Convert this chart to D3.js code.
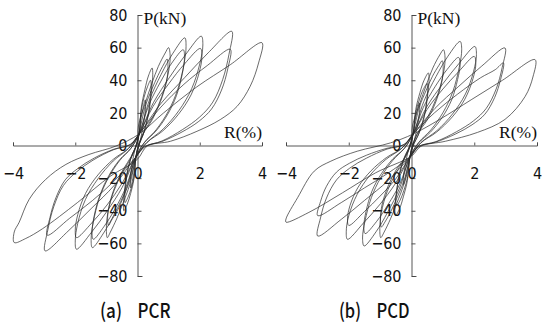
<!DOCTYPE html>
<html>
<head>
<meta charset="utf-8">
<title>PCR / PCD hysteresis loops</title>
<style>
  body { margin: 0; background: #fff; }
  svg { display: block; }
  .axis path, .axis line { stroke: #444; stroke-width: 0.9px; fill: none; }
  .axis text { font-family: "Liberation Sans Narrow", "DejaVu Sans Condensed", sans-serif; font-size: 16px; fill: #111; }
  .loop { fill: none; stroke: #2a2a2a; stroke-width: 0.7px; stroke-linejoin: round; }
  .title { font-family: "Liberation Serif", "DejaVu Serif", serif; font-size: 17.5px; fill: #111; }
  .caption { font-family: "Noto Sans CJK JP", "DejaVu Sans Condensed", sans-serif; font-weight: 500; font-size: 20px; fill: #111; }
</style>
</head>
<body>
<svg width="546" height="329"></svg>
<script src="https://d3js.org/d3.v7.min.js"></script>
<script>
// tick values
var xTicks = [-4, -2, 0, 2, 4];
var yTicks = [-80, -60, -40, -20, 0, 20, 40, 60, 80];

// ---- (a) PCR : one closed loop per cycle, [R(%), P(kN)] ----
var pcr025 = [[0.05,7],[0.1,15],[0.18,23],[0.25,28],[0.26,24],[0.2,14],[0.1,4],[-0.05,-7],[-0.1,-15],[-0.17,-22],[-0.22,-26],[-0.23,-21],[-0.17,-11],[-0.08,-2]];
var pcr050a = [[0.05,7],[0.12,23],[0.24,34.5],[0.35,42.6],[0.47,47.5],[0.49,43.7],[0.46,35.6],[0.4,24.7],[0.31,15.2],[0.19,7.1],[0.07,1.4],[-0.05,-7],[-0.11,-20.2],[-0.22,-29.4],[-0.33,-36],[-0.44,-40],[-0.45,-36.8],[-0.43,-30],[-0.37,-20.8],[-0.29,-12.8],[-0.18,-6],[-0.07,-1.2]];
var pcr050b = [[0.05,7],[0.11,20],[0.21,29.5],[0.32,36],[0.42,40],[0.44,36.8],[0.41,30],[0.36,20.8],[0.27,12.8],[0.17,6],[0.06,1.2],[-0.05,-7],[-0.1,-18],[-0.2,-26],[-0.3,-31.5],[-0.4,-35],[-0.41,-32],[-0.39,-26],[-0.34,-18],[-0.26,-11],[-0.16,-5],[-0.06,-1]];
var pcr100a = [[0.03,12],[0.25,26],[0.46,38],[0.67,48.5],[0.89,56.7],[1.0,60],[1.05,54.6],[0.99,44.5],[0.78,30],[0.51,18],[0.19,7.8],[0,-2],[-0.05,-7],[-0.25,-24],[-0.46,-35],[-0.67,-45],[-0.87,-53],[-0.97,-56.5],[-1.0,-51],[-0.95,-41],[-0.76,-28],[-0.5,-17],[-0.19,-7],[0,2]];
var pcr100b = [[0.05,7],[0.25,24],[0.45,34],[0.66,43],[0.85,50],[0.95,53],[0.98,48],[0.93,39],[0.74,27],[0.48,16],[0.18,7],[0,-2],[-0.05,-7],[-0.24,-21],[-0.44,-31],[-0.65,-40],[-0.84,-46],[-0.93,-49],[-0.96,-44],[-0.9,-36],[-0.72,-25],[-0.47,-15],[-0.18,-6],[0,2]];
var pcr150a = [[0.05,7],[0.38,27.7],[0.76,43.6],[1.14,56.6],[1.52,66],[1.56,60.7],[1.49,49.5],[1.29,34.3],[0.99,21],[0.61,9.9],[0.23,2],[-0.05,-7],[-0.36,-26.5],[-0.73,-41.5],[-1.09,-53.7],[-1.45,-62.6],[-1.49,-57.6],[-1.42,-47],[-1.23,-32.6],[-0.94,-20],[-0.58,-9.4],[-0.22,-1.9]];
var pcr150b = [[0.05,7],[0.37,25],[0.74,39],[1.1,50.5],[1.47,58.7],[1.51,54],[1.44,44],[1.25,30.5],[0.96,18.8],[0.59,8.8],[0.22,1.8],[-0.05,-7],[-0.36,-25],[-0.71,-38.5],[-1.07,-49.5],[-1.42,-57.5],[-1.46,-53],[-1.39,-43],[-1.2,-30],[-0.92,-18.4],[-0.57,-8.6],[-0.21,-1.7]];
var pcr200a = [[0.05,7],[0.51,26.2],[1.03,41.8],[1.54,55.6],[2.05,67],[2.1,61.6],[2.0,50],[1.74,34.8],[1.33,21.4],[0.82,10],[0.31,2],[-0.05,-7],[-0.49,-25.6],[-0.98,-40.3],[-1.47,-53],[-1.96,-63.6],[-2.0,-58.5],[-1.92,-47.7],[-1.67,-33],[-1.27,-20.4],[-0.78,-9.5],[-0.29,-1.9]];
var pcr200b = [[0.05,7],[0.5,24],[1.01,38],[1.51,50],[2.02,59.5],[2.07,54.7],[1.98,44.6],[1.72,31],[1.31,19],[0.81,8.9],[0.3,1.8],[-0.05,-7],[-0.49,-23],[-0.98,-36.5],[-1.47,-47.5],[-1.96,-56.5],[-2.0,-52],[-1.92,-42.4],[-1.67,-29.4],[-1.27,-18],[-0.78,-8.5],[-0.29,-1.7]];
var pcr300a = [[0.05,7],[0.76,25.9],[1.52,41.7],[2.27,56.8],[3.03,70],[2.94,56],[2.74,40.6],[2.42,26.6],[2.0,17.5],[1.45,9.8],[0.79,2.8],[0.24,-0.7],[-0.05,-7],[-0.74,-24.3],[-1.49,-38.7],[-2.23,-52.5],[-2.97,-64.6],[-2.88,-51.7],[-2.69,-37.5],[-2.38,-24.5],[-1.96,-16.2],[-1.43,-9],[-0.77,-2.6],[-0.24,0.6]];
var pcr300b = [[0.05,7],[0.75,23.5],[1.49,37.5],[2.24,49],[2.98,59],[2.9,47],[2.7,34],[2.38,22.4],[1.97,14.8],[1.43,8.3],[0.78,2.4],[0.24,-0.6],[-0.05,-7],[-0.73,-21.4],[-1.45,-33.8],[-2.18,-44.6],[-2.9,-55],[-2.81,-44],[-2.62,-32],[-2.32,-21],[-1.91,-14],[-1.39,-7.7],[-0.75,-2.2],[-0.23,0.5]];
var pcr400 = [[0.05,7],[0.84,20],[1.91,36],[2.98,49.5],[4.0,63],[3.89,50.6],[3.62,36.3],[3.2,24],[2.66,15.9],[1.91,8.7],[1.06,2.6],[0.31,-0.4],[-0.01,-8.6],[-0.87,-18.8],[-1.93,-35],[-3.05,-51],[-3.59,-57],[-3.96,-59.5],[-3.96,-53],[-3.8,-47],[-3.48,-33],[-2.95,-20.8],[-2.3,-11.6],[-1.56,-5.5],[-0.7,-0.4]];

// ---- (b) PCD ----
var pcd025 = [[0.05,7],[0.1,14],[0.18,21],[0.25,26],[0.26,22],[0.2,13],[0.1,4],[-0.05,-7],[-0.1,-14],[-0.18,-20],[-0.25,-24],[-0.26,-20],[-0.19,-11],[-0.09,-2]];
var pcd050a = [[0.05,7],[0.135,22],[0.27,32.5],[0.4,40],[0.54,44.5],[0.56,41],[0.53,33.4],[0.46,23],[0.35,14.2],[0.22,6.7],[0.08,1.3],[-0.05,-7],[-0.13,-21.4],[-0.26,-31.5],[-0.38,-38.7],[-0.51,-43],[-0.53,-39.6],[-0.5,-32],[-0.43,-22.4],[-0.33,-13.8],[-0.2,-6.5],[-0.08,-1.3]];
var pcd050b = [[0.05,7],[0.125,19.4],[0.25,28],[0.375,34.4],[0.5,38],[0.52,35],[0.49,28.5],[0.43,19.8],[0.33,12.2],[0.2,5.7],[0.08,1.1],[-0.05,-7],[-0.12,-19],[-0.24,-27.4],[-0.36,-33.4],[-0.48,-37],[-0.5,-34],[-0.47,-27.8],[-0.41,-19.2],[-0.31,-11.8],[-0.19,-5.5],[-0.07,-1.1]];
var pcd100a = [[0.03,12],[0.26,25.5],[0.47,37],[0.68,47.5],[0.9,55.5],[1.02,58.7],[1.07,53.4],[1.01,43.5],[0.8,29.4],[0.52,17.6],[0.19,7.6],[0,-2],[-0.05,-7],[-0.25,-24],[-0.46,-35],[-0.67,-45],[-0.87,-53],[-0.98,-56.5],[-1.01,-51],[-0.96,-41],[-0.77,-28],[-0.5,-17],[-0.19,-7],[0,2]];
var pcd100b = [[0.05,7],[0.25,23.5],[0.46,33.5],[0.67,42.5],[0.87,49],[0.98,52],[1.01,47.5],[0.96,38.5],[0.76,26],[0.5,15.6],[0.18,6.8],[0,-2],[-0.05,-7],[-0.24,-21.5],[-0.45,-31.5],[-0.66,-40.5],[-0.85,-47],[-0.96,-50],[-0.99,-45],[-0.94,-36.5],[-0.75,-25],[-0.49,-15],[-0.18,-6.2],[0,2]];
var pcd150a = [[0.05,7],[0.39,26.9],[0.78,42.2],[1.16,54.7],[1.55,63.8],[1.6,58.7],[1.52,47.9],[1.32,33.2],[1.01,20.4],[0.62,9.6],[0.23,1.9],[-0.05,-7],[-0.38,-26.1],[-0.76,-40.9],[-1.13,-52.9],[-1.51,-61.6],[-1.56,-56.7],[-1.48,-46.2],[-1.28,-32],[-0.98,-19.7],[-0.6,-9.2],[-0.23,-1.8]];
var pcd150b = [[0.05,7],[0.38,23.5],[0.75,36],[1.13,46.5],[1.5,54],[1.55,49.7],[1.47,40.5],[1.28,28],[0.98,17.3],[0.6,8.1],[0.23,1.6],[-0.05,-7],[-0.37,-23.5],[-0.74,-36],[-1.11,-46.5],[-1.48,-54],[-1.52,-49.7],[-1.45,-40.5],[-1.26,-28],[-0.96,-17.3],[-0.59,-8.1],[-0.22,-1.6]];
var pcd200a = [[0.05,7],[0.5,24.2],[1.01,38.1],[1.52,50.4],[2.02,60.7],[2.07,55.8],[1.98,45.5],[1.72,31.6],[1.31,19.4],[0.81,9.1],[0.3,1.8],[-0.05,-7],[-0.51,-23.2],[-1.02,-36.4],[-1.53,-47.5],[-2.04,-57.5],[-2.08,-52.9],[-2.0,-43.1],[-1.73,-29.9],[-1.33,-18.4],[-0.82,-8.6],[-0.31,-1.7]];
var pcd200b = [[0.05,7],[0.5,22.2],[1.0,34.6],[1.5,45.2],[2.0,54.6],[2.05,50.2],[1.96,41],[1.7,28.4],[1.3,17.5],[0.8,8.2],[0.3,1.6],[-0.05,-7],[-0.5,-20.4],[-1.0,-31],[-1.5,-40.5],[-2.0,-49],[-2.04,-45],[-1.96,-36.8],[-1.7,-25.5],[-1.3,-15.7],[-0.8,-7.4],[-0.3,-1.5]];
var pcd300a = [[0.05,7],[0.75,22.8],[1.49,36],[2.24,48.7],[2.98,59.8],[2.89,47.8],[2.7,34.7],[2.38,22.7],[1.97,15],[1.43,8.4],[0.78,2.4],[0.24,-0.6],[-0.05,-7],[-0.75,-21.6],[-1.5,-33.7],[-2.24,-45.3],[-2.99,-55.5],[-2.9,-44.4],[-2.71,-32.2],[-2.39,-21.1],[-1.97,-13.9],[-1.44,-7.8],[-0.78,-2.2],[-0.24,0.6]];
var pcd300b = [[0.05,7],[0.73,20],[1.47,31.5],[2.2,41.5],[2.67,46.5],[2.93,50.6],[2.84,40.5],[2.65,29.4],[2.34,19.2],[1.93,12.7],[1.41,7.1],[0.76,2],[0.23,-0.5],[-0.05,-7],[-0.75,-17],[-1.5,-26],[-2.24,-35],[-2.99,-43],[-2.9,-34.4],[-2.71,-25],[-2.39,-16.3],[-1.97,-10.8],[-1.44,-6],[-0.78,-1.7],[-0.24,0.5]];
var pcd400 = [[0.05,7],[0.9,16],[1.9,28],[2.9,40],[3.94,52.6],[3.87,42],[3.62,30],[2.98,16],[2.1,8],[1.08,2.6],[0.3,-0.5],[0,-6.5],[-1.14,-16.7],[-2.2,-29],[-3.27,-41],[-4.0,-47],[-4.0,-45],[-3.63,-32],[-3.1,-15.7],[-2.57,-9.6],[-1.73,-3.5],[-0.67,1.6]];

var pcrLoops = [pcr025, pcr050a, pcr050b, pcr100a, pcr100b, pcr150a, pcr150b, pcr200a, pcr200b, pcr300a, pcr300b, pcr400];
var pcdLoops = [pcd025, pcd050a, pcd050b, pcd100a, pcd100b, pcd150a, pcd150b, pcd200a, pcd200b, pcd300a, pcd300b, pcd400];

var svg = d3.select('svg');
svg.append('rect').attr('width', 546).attr('height', 329).attr('fill', '#fff');

function minus(v) { return String(v).replace('-', '\u2212'); }

function drawPanel(loops, xRange, label, name, captionX) {
  var x = d3.scaleLinear().domain([-4, 4]).range(xRange);
  var y = d3.scaleLinear().domain([-80, 80]).range([276, 15]);
  var g = svg.append('g');

  // y axis: ticks point inward (right), labels to the left
  g.append('g').attr('class', 'axis')
    .attr('transform', 'translate(' + x(0) + ',0)')
    .call(d3.axisLeft(y).tickValues(yTicks).tickSizeInner(-4).tickSizeOuter(-5)
      .tickPadding(10).tickFormat(minus));

  // x axis: ticks point up, labels well below
  g.append('g').attr('class', 'axis')
    .attr('transform', 'translate(0,' + y(0) + ')')
    .call(d3.axisBottom(x).tickValues(xTicks).tickSizeInner(-3).tickSizeOuter(-3)
      .tickPadding(22).tickFormat(minus));

  g.selectAll('.axis text').attr('fill', '#111');

  var line = d3.line()
    .x(function(d) { return x(d[0]); })
    .y(function(d) { return y(d[1]); })
    .curve(d3.curveCatmullRomClosed.alpha(0.5));

  g.selectAll('path.loop')
    .data(loops)
    .enter().append('path')
    .attr('class', 'loop')
    .attr('d', line);

  g.append('text').attr('class', 'title')
    .attr('x', x(0) + 6).attr('y', 24).text('P(kN)');
  g.append('text').attr('class', 'title')
    .attr('x', xRange[1]).attr('y', 138).attr('text-anchor', 'end').text('R(%)');

  // caption: "(a)  PCR" with a wide gap
  g.append('text').attr('class', 'caption')
    .attr('x', captionX - 24).attr('y', 318).attr('text-anchor', 'middle')
    .attr('textLength', 22).attr('lengthAdjust', 'spacingAndGlyphs')
    .text(label);
  g.append('text').attr('class', 'caption')
    .attr('x', captionX + 19).attr('y', 318).attr('text-anchor', 'middle')
    .attr('textLength', 33).attr('lengthAdjust', 'spacingAndGlyphs')
    .text(name);
}

drawPanel(pcrLoops, [13, 262], '(a)', 'PCR', 135);
drawPanel(pcdLoops, [286, 537], '(b)', 'PCD', 374);
</script>
</body>
</html>
